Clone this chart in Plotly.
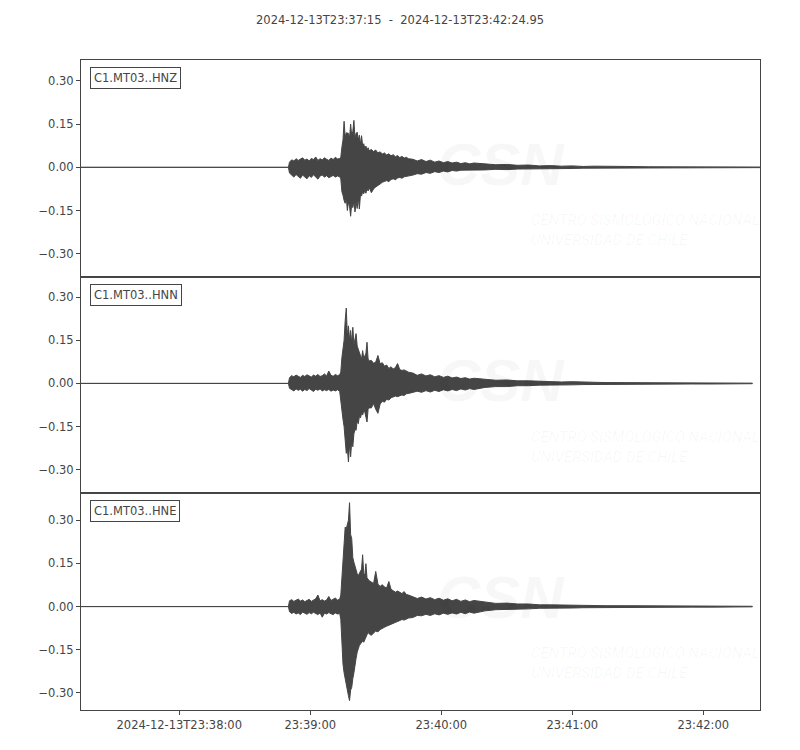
import pandas as pnd
import plotly.graph_objects as gro
from plotly.subplots import make_subplots

# record window
t_start = pnd.Timestamp("2024-12-13 23:37:15")
t_axis_end = pnd.Timestamp("2024-12-13 23:42:26")
title_text = "2024-12-13T23:37:15  -  2024-12-13T23:42:24.95"

# envelope sample times, seconds after start
t_sec = [0.0, 95.0,
         95.5, 96.5, 97.5, 98.5, 99.5, 100.5, 101.5, 102.5, 103.5, 104.5, 105.5, 106.5,
         107.5, 108.5, 109.5, 110.5, 111.5, 112.5, 113.5, 114.5, 115.5, 116.5, 117.5, 118.5,
         119.0, 119.5, 120.0, 120.5, 121.0, 121.5, 122.0, 122.5, 123.0, 123.5, 124.0, 124.5,
         125.0, 125.5, 126.0, 126.5, 127.0, 127.5, 128.0, 128.5, 129.0, 129.5, 130.0, 130.5,
         131.0, 131.5, 132.0,
         133, 134, 135, 136, 137, 138, 139, 140, 141, 142, 143, 144, 145, 146, 147, 148, 149, 150,
         152, 154, 156, 158, 160, 162, 164, 166, 168, 170, 172, 174, 176, 178, 180,
         185, 190, 195, 200, 205, 210, 215, 220, 225, 230, 235, 240,
         250, 260, 270, 280, 290, 300, 307.5]

# last sample of each channel (HNZ runs a little longer)
end_sec = [311.0, 307.5, 307.5]

channels = ["C1.MT03..HNZ", "C1.MT03..HNN", "C1.MT03..HNE"]

# HNZ max / min envelope
hnz_upper = [0.0, 0.0,
             0.018, 0.026, 0.022, 0.030, 0.024, 0.028, 0.033, 0.025, 0.029, 0.022, 0.031, 0.027,
             0.036, 0.024, 0.030, 0.026, 0.033, 0.028, 0.024, 0.032, 0.027, 0.035, 0.029, 0.031,
             0.035, 0.070, 0.095, 0.160, 0.105, 0.120, 0.119, 0.118, 0.102, 0.150, 0.110, 0.125,
             0.163, 0.100, 0.118, 0.122, 0.095, 0.112, 0.080, 0.110, 0.075, 0.082, 0.065, 0.074,
             0.060, 0.068, 0.058,
             0.062, 0.055, 0.060, 0.050, 0.054, 0.046, 0.050, 0.043, 0.047, 0.040, 0.044, 0.037,
             0.041, 0.034, 0.038, 0.032, 0.035, 0.030,
             0.028, 0.022, 0.027, 0.020, 0.025, 0.018, 0.022, 0.016, 0.020, 0.015, 0.018, 0.013,
             0.016, 0.012, 0.015,
             0.012, 0.009, 0.010, 0.007, 0.008, 0.005, 0.006, 0.004, 0.005, 0.003, 0.004, 0.003,
             0.003, 0.002, 0.002, 0.002, 0.002, 0.002, 0.001]
hnz_lower = [0.0, 0.0,
             -0.020, -0.028, -0.034, -0.025, -0.031, -0.038, -0.027, -0.033, -0.040, -0.029, -0.035, -0.026,
             -0.032, -0.041, -0.030, -0.027, -0.034, -0.029, -0.036, -0.031, -0.028, -0.034, -0.030, -0.033,
             -0.040, -0.085, -0.097, -0.115, -0.125, -0.105, -0.150, -0.120, -0.135, -0.170, -0.125, -0.140,
             -0.118, -0.155, -0.120, -0.143, -0.105, -0.145, -0.095, -0.100, -0.085, -0.092, -0.080, -0.090,
             -0.075, -0.082, -0.070,
             -0.088, -0.075, -0.068, -0.062, -0.058, -0.052, -0.049, -0.046, -0.050, -0.042, -0.040, -0.043,
             -0.037, -0.035, -0.038, -0.033, -0.031, -0.030,
             -0.027, -0.022, -0.024, -0.018, -0.021, -0.015, -0.018, -0.013, -0.016, -0.011, -0.013, -0.010,
             -0.012, -0.009, -0.010,
             -0.009, -0.007, -0.008, -0.006, -0.006, -0.004, -0.005, -0.004, -0.004, -0.003, -0.003, -0.003,
             -0.002, -0.002, -0.002, -0.002, -0.002, -0.001, -0.001]

# HNN max / min envelope
hnn_upper = [0.0, 0.0,
             0.020, 0.027, 0.023, 0.029, 0.025, 0.021, 0.028, 0.024, 0.030, 0.026, 0.022, 0.029,
             0.025, 0.031, 0.024, 0.027, 0.033, 0.026, 0.043, 0.028, 0.025, 0.031, 0.027, 0.030,
             0.040, 0.090, 0.120, 0.150, 0.218, 0.262, 0.165, 0.200, 0.150, 0.184, 0.140, 0.195,
             0.135, 0.155, 0.173, 0.130, 0.120, 0.105, 0.098, 0.085, 0.114, 0.090, 0.095, 0.105,
             0.143, 0.085, 0.078,
             0.080, 0.070, 0.074, 0.097, 0.068, 0.072, 0.060, 0.064, 0.052, 0.058, 0.050, 0.055,
             0.069, 0.048, 0.045, 0.047, 0.042, 0.039,
             0.036, 0.028, 0.033, 0.026, 0.030, 0.023, 0.027, 0.021, 0.025, 0.019, 0.022, 0.017,
             0.020, 0.015, 0.018,
             0.015, 0.011, 0.012, 0.009, 0.009, 0.007, 0.007, 0.005, 0.006, 0.004, 0.004, 0.003,
             0.003, 0.003, 0.002, 0.002, 0.002, 0.002, 0.001]
hnn_lower = [0.0, 0.0,
             -0.017, -0.022, -0.026, -0.019, -0.024, -0.020, -0.027, -0.021, -0.025, -0.018, -0.023, -0.028,
             -0.020, -0.024, -0.019, -0.026, -0.022, -0.025, -0.021, -0.027, -0.023, -0.026, -0.022, -0.028,
             -0.040, -0.090, -0.125, -0.150, -0.186, -0.243, -0.225, -0.273, -0.210, -0.255, -0.200, -0.220,
             -0.175, -0.160, -0.163, -0.130, -0.140, -0.115, -0.120, -0.104, -0.110, -0.095, -0.100, -0.117,
             -0.134, -0.090, -0.085,
             -0.085, -0.070, -0.090, -0.104, -0.072, -0.062, -0.065, -0.055, -0.058, -0.050, -0.047, -0.044,
             -0.046, -0.042, -0.040, -0.042, -0.036, -0.035,
             -0.032, -0.027, -0.031, -0.025, -0.030, -0.024, -0.028, -0.022, -0.026, -0.021, -0.025, -0.019,
             -0.023, -0.018, -0.021,
             -0.014, -0.011, -0.011, -0.008, -0.008, -0.006, -0.006, -0.005, -0.005, -0.004, -0.004, -0.003,
             -0.003, -0.003, -0.002, -0.002, -0.002, -0.002, -0.001]

# HNE max / min envelope
hne_upper = [0.0, 0.0,
             0.020, 0.024, 0.018, 0.022, 0.026, 0.019, 0.023, 0.017, 0.021, 0.025, 0.018, 0.022,
             0.027, 0.040, 0.020, 0.024, 0.019, 0.023, 0.035, 0.021, 0.025, 0.030, 0.022, 0.026,
             0.040, 0.100, 0.170, 0.210, 0.276, 0.270, 0.290, 0.300, 0.361, 0.250, 0.236, 0.170,
             0.154, 0.140, 0.125, 0.114, 0.108, 0.115, 0.120, 0.130, 0.180, 0.115, 0.110, 0.149,
             0.100, 0.095, 0.090,
             0.085, 0.080, 0.122, 0.078, 0.070, 0.076, 0.068, 0.065, 0.087, 0.060, 0.055, 0.050,
             0.054, 0.048, 0.045, 0.052, 0.042, 0.040,
             0.035, 0.028, 0.033, 0.026, 0.031, 0.024, 0.029, 0.022, 0.027, 0.020, 0.025, 0.018,
             0.023, 0.017, 0.021,
             0.016, 0.011, 0.012, 0.009, 0.009, 0.006, 0.006, 0.005, 0.005, 0.004, 0.004, 0.003,
             0.003, 0.003, 0.002, 0.002, 0.002, 0.002, 0.001]
hne_lower = [0.0, 0.0,
             -0.018, -0.024, -0.020, -0.026, -0.022, -0.028, -0.019, -0.023, -0.027, -0.021, -0.025, -0.020,
             -0.024, -0.028, -0.022, -0.037, -0.023, -0.026, -0.021, -0.025, -0.028, -0.022, -0.026, -0.024,
             -0.045, -0.100, -0.200, -0.230, -0.260, -0.275, -0.290, -0.310, -0.327, -0.290, -0.281, -0.250,
             -0.230, -0.217, -0.180, -0.159, -0.147, -0.135, -0.130, -0.125, -0.120, -0.124, -0.113, -0.105,
             -0.098, -0.090, -0.095,
             -0.100, -0.092, -0.085, -0.088, -0.080, -0.076, -0.072, -0.068, -0.065, -0.060, -0.058, -0.055,
             -0.052, -0.050, -0.045, -0.047, -0.043, -0.040,
             -0.038, -0.031, -0.032, -0.027, -0.031, -0.025, -0.029, -0.023, -0.027, -0.022, -0.026, -0.020,
             -0.025, -0.019, -0.023,
             -0.015, -0.011, -0.012, -0.009, -0.008, -0.006, -0.006, -0.005, -0.005, -0.004, -0.003, -0.003,
             -0.003, -0.003, -0.002, -0.002, -0.002, -0.002, -0.001]

uppers = [hnz_upper, hnn_upper, hne_upper]
lowers = [hnz_lower, hnn_lower, hne_lower]

# axis ticks
x_tickvals = ["2024-12-13 23:38:00", "2024-12-13 23:39:00", "2024-12-13 23:40:00",
              "2024-12-13 23:41:00", "2024-12-13 23:42:00"]
x_ticktext = ["2024-12-13T23:38:00", "23:39:00", "23:40:00", "23:41:00", "23:42:00"]
y_tickvals = [-0.3, -0.15, 0.0, 0.15, 0.3]
y_ticktext = ["\u22120.30", "\u22120.15", "0.00", "0.15", "0.30"]

ink = "#454545"
font_main = "DejaVu Sans, Liberation Sans, sans-serif"
half_span = 0.3764  # same vertical scale on all three panels

fig = make_subplots(rows=3, cols=1, shared_xaxes=True, vertical_spacing=0)

for i, name in enumerate(channels):
    row = i + 1
    secs = t_sec[:-1] + [end_sec[i]]
    times = t_start + pnd.to_timedelta(secs, unit="s")
    xs = list(times) + list(times[::-1])
    ys = uppers[i] + lowers[i][::-1]
    fig.add_trace(
        gro.Scatter(x=xs, y=ys, mode="lines", fill="toself",
                    line=dict(color=ink, width=1), fillcolor=ink,
                    name=name, hoverinfo="skip"),
        row=row, col=1
    )
    # each panel centred on its own trace
    mid = (max(uppers[i]) + min(lowers[i])) / 2
    fig.update_yaxes(range=[mid - half_span, mid + half_span], row=row, col=1)

    ax = "" if row == 1 else str(row)
    # faint CSN watermark
    fig.add_annotation(text="<b><i>CSN</i></b>", xref=f"x{ax} domain", yref=f"y{ax} domain",
                       x=0.618, y=0.52, showarrow=False,
                       font=dict(family="Liberation Sans, Arial", size=60, color="rgba(0,0,0,0.03)"))
    fig.add_annotation(text="<i>CENTRO SISMOLÓGICO NACIONAL<br>UNIVERSIDAD DE CHILE</i>",
                       xref=f"x{ax} domain", yref=f"y{ax} domain",
                       x=0.66, y=0.215, xanchor="left", yanchor="middle", align="left",
                       showarrow=False,
                       font=dict(family="Liberation Sans Narrow, Roboto, sans-serif", size=15,
                                 color="rgba(0,0,0,0.035)"))
    # station label box
    fig.add_annotation(text=name, xref=f"x{ax} domain", yref=f"y{ax} domain",
                       x=0.013, y=0.968, xanchor="left", yanchor="top", showarrow=False,
                       bgcolor="white", bordercolor=ink, borderwidth=1, borderpad=3,
                       font=dict(family=font_main, size=11.5, color=ink))

fig.update_yaxes(tickvals=y_tickvals, ticktext=y_ticktext, ticks="outside", ticklen=4,
                 tickcolor=ink, showline=True, mirror=True, linecolor=ink, linewidth=1,
                 showgrid=False, zeroline=False,
                 tickfont=dict(family=font_main, size=11.5, color=ink))
fig.update_xaxes(type="date", range=[t_start, t_axis_end], tickvals=x_tickvals,
                 ticktext=x_ticktext, showline=True, mirror=True, linecolor=ink,
                 linewidth=1, showgrid=False, zeroline=False,
                 tickfont=dict(family=font_main, size=11.5, color=ink))
fig.update_xaxes(ticks="", showticklabels=False, row=1, col=1)
fig.update_xaxes(ticks="", showticklabels=False, row=2, col=1)
fig.update_xaxes(ticks="outside", ticklen=4, tickcolor=ink, showticklabels=True, row=3, col=1)

# page body adds an 8 px offset, so the figure is 8 px smaller each way
fig.update_layout(
    width=792, height=742,
    margin=dict(l=73, r=40, t=52, b=40),
    title=dict(text=title_text, x=0.495, xanchor="center", y=1 - 12 / 742, yanchor="middle",
               font=dict(family=font_main, size=11.5, color=ink)),
    plot_bgcolor="white", paper_bgcolor="white",
    showlegend=False
)

fig.write_html("out.html")
